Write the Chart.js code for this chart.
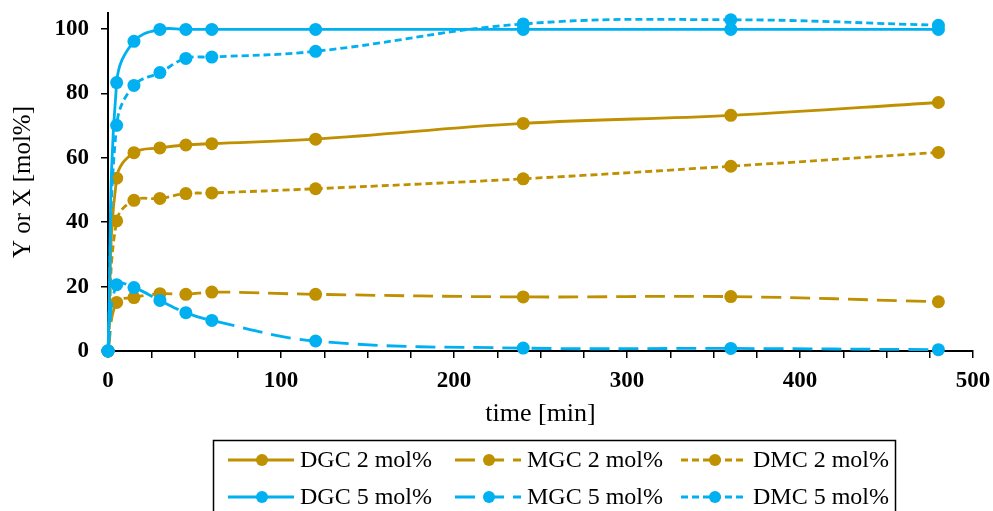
<!DOCTYPE html>
<html>
<head>
<meta charset="utf-8">
<script src="https://cdn.jsdelivr.net/npm/chart.js@4/dist/chart.umd.min.js"></script>
<style>
  html, body { margin: 0; padding: 0; background: #fff; }
  #wrap { width: 993px; height: 511px; overflow: hidden; }
</style>
</head>
<body>
<div id="wrap"><canvas id="chart" width="993" height="511"></canvas></div>
<script>
// time points [min]
const times = [0, 5, 15, 30, 45, 60, 120, 240, 360, 480];

// series values [mol%]
const dgc2 = [0, 53.7, 61.6, 63.1, 64.0, 64.4, 65.8, 70.7, 73.2, 77.2];
const mgc2 = [0, 15.1, 16.6, 17.8, 17.6, 18.3, 17.6, 16.8, 16.9, 15.3];
const dmc2 = [0, 40.4, 46.8, 47.4, 48.9, 49.1, 50.4, 53.5, 57.4, 61.7];
const dgc5 = [0, 83.4, 96.2, 99.9, 99.9, 99.9, 99.9, 99.9, 99.9, 99.9];
const mgc5 = [0, 20.6, 19.7, 15.7, 11.9, 9.5, 3.1, 0.9, 0.8, 0.4];
const dmc5 = [0, 70.1, 82.5, 86.5, 90.9, 91.3, 93.1, 101.6, 102.9, 101.2];

const seriesLabels = ['DGC 2 mol%', 'MGC 2 mol%', 'DMC 2 mol%', 'DGC 5 mol%', 'MGC 5 mol%', 'DMC 5 mol%'];
const yTickValues = [0, 20, 40, 60, 80, 100];
const xLabelValues = [0, 100, 200, 300, 400, 500];

const gold = '#BF9000';
const blue = '#00B0F0';
const solid = [];
const longDash = [20, 9];
const shortDash = [7, 4];

const serif = "'Liberation Serif', 'Times New Roman', serif";

function makeSet(label, values, color, dash, order) {
    return {
        label: label,
        data: times.map((t, i) => ({ x: t, y: values[i] })),
        borderColor: color,
        backgroundColor: color,
        pointBackgroundColor: color,
        pointBorderColor: color,
        pointBorderWidth: 0,
        pointRadius: 6.5,
        borderWidth: 2.8,
        borderDash: dash,
        tension: 0.4,
        clip: false,
        order: order
    };
}

const datasets = [
    makeSet(seriesLabels[0], dgc2, gold, solid, 5),
    makeSet(seriesLabels[1], mgc2, gold, longDash, 4),
    makeSet(seriesLabels[2], dmc2, gold, shortDash, 3),
    makeSet(seriesLabels[3], dgc5, blue, solid, 2),
    makeSet(seriesLabels[4], mgc5, blue, longDash, 1),
    makeSet(seriesLabels[5], dmc5, blue, shortDash, 0)
];

// boxed legend underneath the axis, two rows of three
const boxLegend = {
    id: 'boxLegend',
    afterDraw(chart) {
        const ctx = chart.ctx;
        ctx.save();
        ctx.strokeStyle = '#000';
        ctx.lineWidth = 1.5;
        ctx.strokeRect(213.5, 440.5, 682, 90);

        const cols = [228, 455, 681];
        const rows = [460, 497];
        ctx.font = '24px ' + serif;
        ctx.textBaseline = 'middle';
        ctx.fillStyle = '#000';
        chart.data.datasets.forEach((ds, i) => {
            const x0 = cols[i % 3];
            const y = rows[Math.floor(i / 3)];
            ctx.strokeStyle = ds.borderColor;
            ctx.lineWidth = 2.8;
            ctx.setLineDash(ds.borderDash);
            ctx.beginPath();
            ctx.moveTo(x0, y);
            ctx.lineTo(x0 + 66, y);
            ctx.stroke();
            ctx.setLineDash([]);
            ctx.fillStyle = ds.borderColor;
            ctx.beginPath();
            ctx.arc(x0 + 34, y, 6, 0, Math.PI * 2);
            ctx.fill();
            ctx.fillStyle = '#000';
            ctx.fillText(ds.label, x0 + 72, y + 1);
        });
        ctx.restore();
    }
};

new Chart(document.getElementById('chart'), {
    type: 'line',
    data: { datasets: datasets },
    options: {
        responsive: false,
        animation: false,
        events: [],
        layout: { padding: { top: 13, right: 20, left: 0, bottom: 0 } },
        plugins: {
            legend: { display: false },
            tooltip: { enabled: false }
        },
        scales: {
            x: {
                type: 'linear',
                min: 0,
                max: 500,
                afterBuildTicks: axis => {
                    const t = [];
                    for (let v = 0; v <= 500; v += 25) t.push({ value: v });
                    axis.ticks = t;
                },
                afterFit: axis => {
                    axis.height = 160;
                    axis.paddingLeft = 0;
                    axis.paddingRight = 0;
                },
                ticks: {
                    autoSkip: false,
                    maxRotation: 0,
                    color: '#000',
                    padding: 9,
                    font: { family: serif, size: 23, weight: 'bold' },
                    callback: v => xLabelValues.includes(v) ? v : ''
                },
                grid: { drawOnChartArea: false, drawTicks: true, tickLength: 7, color: '#000', lineWidth: 1.5 },
                border: { color: '#000', width: 2 },
                title: {
                    display: true,
                    text: 'time [min]',
                    color: '#000',
                    font: { family: serif, size: 26 },
                    padding: { top: 0, bottom: 81 }
                }
            },
            y: {
                min: 0,
                max: 105,
                afterBuildTicks: axis => {
                    axis.ticks = yTickValues.map(v => ({ value: v }));
                },
                afterFit: axis => {
                    axis.width = 108;
                    axis.paddingTop = 0;
                    axis.paddingBottom = 0;
                },
                ticks: {
                    color: '#000',
                    padding: 12,
                    font: { family: serif, size: 23, weight: 'bold' }
                },
                grid: { drawOnChartArea: false, drawTicks: true, tickLength: 7, color: '#000', lineWidth: 1.5 },
                border: { color: '#000', width: 2 },
                title: {
                    display: true,
                    text: 'Y or X [mol%]',
                    color: '#000',
                    font: { family: serif, size: 25 },
                    padding: { top: 8, bottom: 0 }
                }
            }
        }
    },
    plugins: [boxLegend]
});
</script>
</body>
</html>
